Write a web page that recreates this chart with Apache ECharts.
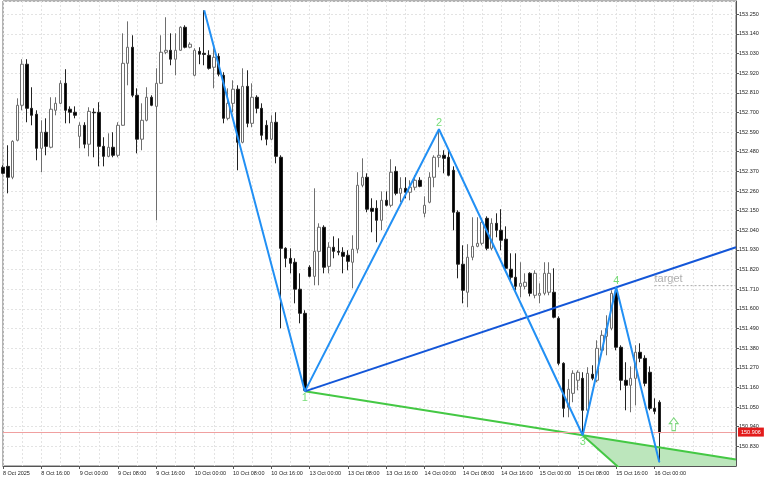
<!DOCTYPE html>
<html>
<head>
<meta charset="utf-8">
<title>Wolfe wave H1</title>
<script src="https://cdn.jsdelivr.net/npm/echarts@6/dist/echarts.min.js"></script>
<style>
  html, body { margin: 0; padding: 0; background: #fff; }
  #chart { width: 768px; height: 480px; }
</style>
</head>
<body>
<div id="chart"></div>
<script>
// H1 bars from 8 Oct 08:00 to 16 Oct 01:00, one label every 8 bars
const tickLabels = ['8 Oct 2025', '8 Oct 16:00', '9 Oct 00:00', '9 Oct 08:00', '9 Oct 16:00',
  '10 Oct 00:00', '10 Oct 08:00', '10 Oct 16:00', '13 Oct 00:00', '13 Oct 08:00', '13 Oct 16:00',
  '14 Oct 00:00', '14 Oct 08:00', '14 Oct 16:00', '15 Oct 00:00', '15 Oct 08:00', '15 Oct 16:00',
  '16 Oct 00:00'];

const open = [
  152.393, 152.398, 152.337, 152.544, 152.740, 152.970, 152.723, 152.690, 152.499, 152.589,
  152.505, 152.712, 152.751, 152.863, 152.718, 152.701, 152.566, 152.628, 152.522, 152.701,
  152.701, 152.510, 152.454, 152.505, 152.460, 152.628, 152.975, 153.065, 152.796, 152.550,
  152.656, 152.785, 152.734, 152.863, 153.037, 153.048, 152.998, 153.048, 153.177, 153.065,
  152.908, 153.042, 153.031, 153.020, 152.953, 153.014, 152.908, 152.667, 152.751, 152.830,
  152.533, 152.846, 152.639, 152.785, 152.723, 152.628, 152.550, 152.645, 152.449, 151.939,
  151.883, 151.861, 151.710, 151.575, 151.833, 151.782, 151.922, 152.057, 151.838, 151.945,
  151.922, 151.917, 151.900, 151.861, 151.934, 152.292, 152.337, 152.163, 152.163, 152.096,
  152.208, 152.180, 152.370, 152.247, 152.275, 152.253, 152.281, 152.320, 152.135, 152.197,
  152.337, 152.449, 152.460, 152.449, 152.376, 152.141, 151.850, 151.693, 151.889, 151.950,
  151.967, 152.107, 151.939, 152.079, 152.040, 151.990, 151.822, 151.777, 151.726, 151.726,
  151.799, 151.676, 151.676, 151.687, 151.693, 151.693, 151.547, 151.295, 151.049, 151.127,
  151.200, 151.211, 151.032, 151.234, 151.200, 151.368, 151.446, 151.491, 151.693, 151.385,
  151.200, 151.172, 151.211, 151.357, 151.323, 151.245, 151.043, 151.077
];
const close = [
  152.359, 152.337, 152.538, 152.740, 152.970, 152.723, 152.684, 152.499, 152.589, 152.510,
  152.718, 152.751, 152.863, 152.712, 152.701, 152.684, 152.628, 152.522, 152.706, 152.698,
  152.510, 152.454, 152.505, 152.460, 152.628, 152.975, 153.065, 152.796, 152.550, 152.656,
  152.785, 152.740, 152.863, 153.037, 153.048, 152.998, 153.048, 153.177, 153.065, 153.082,
  153.048, 153.026, 153.025, 152.947, 153.009, 152.914, 152.667, 152.751, 152.830, 152.533,
  152.846, 152.639, 152.785, 152.723, 152.572, 152.550, 152.645, 152.454, 151.939, 151.883,
  151.855, 151.710, 151.575, 151.144, 151.782, 151.922, 152.057, 151.833, 151.945, 151.922,
  151.917, 151.894, 151.866, 151.934, 152.292, 152.337, 152.158, 152.146, 152.096, 152.208,
  152.180, 152.365, 152.247, 152.275, 152.253, 152.281, 152.320, 152.286, 152.180, 152.337,
  152.449, 152.460, 152.443, 152.348, 152.141, 151.850, 151.704, 151.889, 151.950, 151.967,
  152.085, 151.939, 152.079, 152.040, 151.984, 151.827, 151.777, 151.726, 151.743, 151.749,
  151.687, 151.799, 151.687, 151.799, 151.799, 151.553, 151.295, 151.043, 151.150, 151.239,
  151.245, 151.032, 151.239, 151.211, 151.379, 151.452, 151.491, 151.687, 151.385, 151.200,
  151.172, 151.211, 151.357, 151.323, 151.183, 151.043, 151.026, 150.906
];
const high = [
  152.404, 152.516, 152.544, 152.779, 152.998, 152.998, 152.841, 152.712, 152.656, 152.667,
  152.785, 152.785, 152.880, 152.942, 152.734, 152.734, 152.645, 152.645, 152.729, 152.723,
  152.757, 152.561, 152.583, 152.589, 152.645, 153.143, 153.210, 153.132, 152.835, 152.751,
  152.841, 152.796, 152.947, 153.132, 153.233, 153.143, 153.143, 153.182, 153.188, 153.093,
  153.059, 153.065, 153.272, 153.048, 153.059, 153.031, 152.925, 152.835, 152.880, 152.852,
  152.947, 152.936, 152.863, 152.796, 152.751, 152.656, 152.684, 152.701, 152.460, 151.945,
  151.939, 151.883, 151.799, 151.592, 151.844, 152.275, 152.079, 152.068, 151.973, 152.006,
  151.995, 151.945, 151.928, 152.012, 152.365, 152.443, 152.359, 152.219, 152.208, 152.258,
  152.258, 152.438, 152.398, 152.337, 152.337, 152.320, 152.348, 152.337, 152.230, 152.365,
  152.460, 152.606, 152.488, 152.494, 152.398, 152.152, 151.956, 151.962, 152.113, 152.113,
  152.107, 152.118, 152.107, 152.135, 152.158, 152.062, 151.911, 151.911, 151.861, 151.799,
  151.805, 151.816, 151.743, 151.861, 151.861, 151.827, 151.558, 151.301, 151.206, 151.256,
  151.256, 151.245, 151.273, 151.284, 151.424, 151.480, 151.564, 151.704, 151.721, 151.396,
  151.301, 151.278, 151.396, 151.407, 151.340, 151.278, 151.099, 151.088
];
const low = [
  152.354, 152.247, 152.326, 152.538, 152.712, 152.645, 152.628, 152.432, 152.365, 152.460,
  152.499, 152.684, 152.746, 152.639, 152.639, 152.667, 152.499, 152.499, 152.454, 152.449,
  152.398, 152.398, 152.449, 152.449, 152.449, 152.625, 152.852, 152.785, 152.471, 152.488,
  152.650, 152.735, 152.096, 152.860, 153.026, 152.964, 152.908, 153.045, 153.059, 153.059,
  152.902, 152.970, 152.964, 152.940, 152.835, 152.902, 152.639, 152.656, 152.701, 152.376,
  152.527, 152.617, 152.617, 152.695, 152.544, 152.516, 152.544, 152.415, 151.491, 151.833,
  151.799, 151.631, 151.519, 151.138, 151.777, 151.732, 151.732, 151.799, 151.799, 151.883,
  151.900, 151.799, 151.816, 151.715, 151.911, 152.281, 152.141, 152.029, 151.973, 152.040,
  152.174, 152.169, 152.236, 152.197, 152.219, 152.208, 152.264, 152.281, 152.113, 152.191,
  152.281, 152.393, 152.359, 152.342, 152.040, 151.771, 151.631, 151.609, 151.872, 151.945,
  151.956, 151.928, 151.928, 152.001, 151.928, 151.816, 151.760, 151.704, 151.665, 151.710,
  151.670, 151.659, 151.631, 151.676, 151.676, 151.547, 151.284, 150.993, 150.993, 151.077,
  151.144, 150.892, 151.004, 151.200, 151.189, 151.357, 151.340, 151.480, 151.368, 151.144,
  151.032, 151.021, 151.060, 151.301, 151.166, 151.032, 151.010, 150.741
];

// wave points [bar, price]: start, 1, 2, 3, 4, 5
const wave = [[42, 153.272], [63, 151.138], [91, 152.606], [121, 150.892], [128, 151.721], [137, 150.741]];
const waveNames = ['', '1', '2', '3', '4', ''];
const lastPrice = 150.906;
const targetPrice = 151.73;
const arrowPos = [140, 150.954];

const nCats = 154;   // bars plus empty space on the right
const lastCat = nCats - 1;
const cats = [];
for (let i = 0; i < nCats; i++) cats.push(String(i));

const candles = open.map((o, i) => [o, close[i], low[i], high[i]]);

// line through a and b, taken out to bar x
function lineAt(a, b, x) {
  return a[1] + (b[1] - a[1]) * (x - a[0]) / (b[0] - a[0]);
}
const p1 = wave[1], p2 = wave[2], p3 = wave[3], p4 = wave[4];
const line13 = [p1, [lastCat, lineAt(p1, p3, lastCat)]];
const line14 = [p1, [lastCat, lineAt(p1, p4, lastCat)]];
const slope24 = (p4[1] - p2[1]) / (p4[0] - p2[0]);
const par24 = [p3, [lastCat, p3[1] + slope24 * (lastCat - p3[0])]];
const zone = [p3, line13[1], par24[1]];

const waveLabelData = [];
wave.forEach((p, i) => {
  if (!waveNames[i]) return;
  waveLabelData.push({
    value: p,
    label: { position: p[1] > (i > 0 ? wave[i - 1][1] : 0) ? 'top' : 'bottom' }
  });
});

const chart = echarts.init(document.getElementById('chart'));
chart.setOption({
  animation: false,
  backgroundColor: '#fff',
  textStyle: { fontFamily: 'Liberation Sans' },
  grid: {
    left: 1.6, right: 32, top: 1, bottom: 14,
    show: true, borderColor: '#666', borderWidth: 1, backgroundColor: '#fff'
  },
  xAxis: {
    type: 'category',
    data: cats,
    boundaryGap: false,
    axisLine: { lineStyle: { color: '#555', width: 1 } },
    axisTick: {
      show: true, length: 3,
      interval: i => i % 8 === 0 && i < open.length,
      lineStyle: { color: '#555' }
    },
    axisLabel: {
      interval: i => i % 8 === 0 && i < open.length,
      formatter: (v, i) => tickLabels[i / 8],
      align: 'left', fontSize: 5.5, color: '#222', margin: 4
    },
    splitLine: { show: true, interval: 3, lineStyle: { color: '#e3e3e3', type: [2, 2] } }
  },
  yAxis: {
    type: 'value',
    position: 'right',
    min: 150.72, max: 153.324, interval: 0.11,
    axisLine: { show: true, lineStyle: { color: '#555' } },
    axisTick: { show: true, length: 3, lineStyle: { color: '#555' } },
    axisLabel: {
      fontSize: 5.5, color: '#222', margin: 3,
      showMinLabel: false, showMaxLabel: false,
      formatter: v => v.toFixed(3)
    },
    splitLine: { show: true, lineStyle: { color: '#e3e3e3', type: [2, 2] } }
  },
  series: [
    {
      name: 'zone',
      type: 'custom',
      clip: true,
      z: 1,
      data: [p3],
      renderItem: (params, api) => ({
        type: 'polygon',
        shape: { points: zone.map(p => api.coord(p)) },
        style: { fill: '#bce6bc' }
      })
    },
    {
      name: 'price',
      type: 'candlestick',
      z: 2,
      barWidth: 3,
      data: candles,
      itemStyle: {
        color: '#ffffff', color0: '#000000',
        borderColor: '#6e6e6e', borderColor0: '#222222', borderWidth: 1
      },
      markLine: {
        silent: true,
        symbol: ['none', 'none'],
        data: [{ yAxis: lastPrice }],
        lineStyle: { color: '#f0a0a0', width: 1, type: 'solid' },
        label: {
          show: true, position: 'end', distance: 2,
          formatter: lastPrice.toFixed(3),
          backgroundColor: '#e31b1b', color: '#fff', fontSize: 5.5, padding: [2, 3, 1, 3]
        }
      }
    },
    {
      name: 'line13', type: 'line', z: 3, data: line13, symbol: 'none',
      lineStyle: { color: '#44c844', width: 2 }
    },
    {
      name: 'par24', type: 'line', z: 3, data: par24, symbol: 'none',
      lineStyle: { color: '#44c844', width: 2 }
    },
    {
      name: 'line14', type: 'line', z: 4, data: line14, symbol: 'none',
      lineStyle: { color: '#1356d8', width: 2 }
    },
    {
      name: 'wave', type: 'line', z: 5, data: wave, symbol: 'none',
      lineStyle: { color: '#2290f4', width: 2 }
    },
    {
      name: 'target', type: 'line', z: 3, symbol: 'none',
      data: [[136, targetPrice], [lastCat, targetPrice]],
      lineStyle: { color: '#aaaaaa', width: 1, type: [2, 2] }
    },
    {
      name: 'targetText', type: 'scatter', z: 6, symbolSize: 0.1,
      itemStyle: { color: 'rgba(0,0,0,0)' },
      data: [[136, targetPrice]],
      label: { show: true, formatter: 'target', position: [0, -12], fontSize: 11, color: '#9a9a9a' }
    },
    {
      name: 'waveLabels', type: 'scatter', z: 6, symbolSize: 0.1,
      itemStyle: { color: 'rgba(0,0,0,0)' },
      data: waveLabelData,
      label: {
        show: true, distance: 1, fontSize: 11, color: '#55d455',
        formatter: p => waveNames[wave.findIndex(w => w[0] === p.value[0])]
      }
    },
    {
      name: 'arrow', type: 'scatter', z: 6,
      symbol: 'path://M5,0 L10,6 L7,6 L7,13 L3,13 L3,6 L0,6 Z',
      symbolSize: [9, 13],
      data: [arrowPos],
      itemStyle: { color: '#ffffff', borderColor: '#5ccc5c', borderWidth: 1 }
    }
  ]
});
</script>
</body>
</html>
